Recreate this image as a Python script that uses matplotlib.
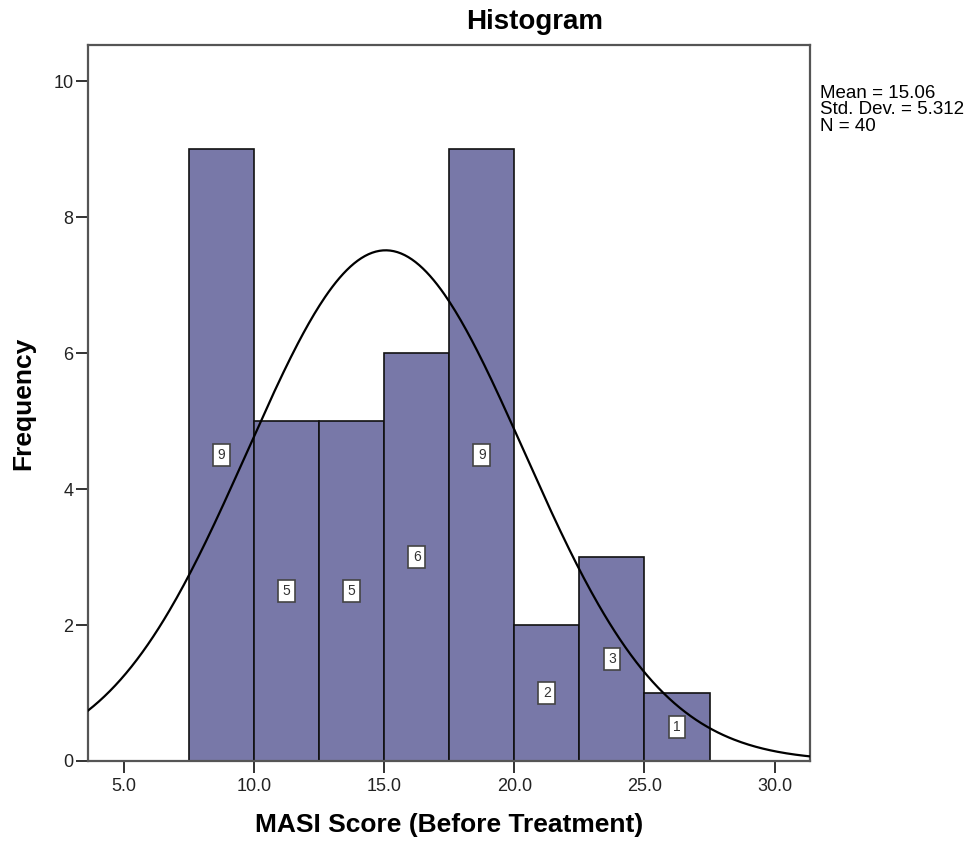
import numpy as np
import matplotlib
matplotlib.use('Agg')
from matplotlib import pyplot as plt

plt.rcParams['font.family'] = ['Liberation Sans', 'DejaVu Sans']

bin_edges = [7.5, 10.0, 12.5, 15.0, 17.5, 20.0, 22.5, 25.0, 27.5]
counts = [9, 5, 5, 6, 9, 2, 3, 1]
mean = 15.06
std = 5.312
n = 40
x_ticks = [5.0, 10.0, 15.0, 20.0, 25.0, 30.0]
y_ticks = [0, 2, 4, 6, 8, 10]

fig = plt.figure(figsize=(9.76, 8.42), dpi=100)
ax = fig.add_axes([0.0902, 0.0962, 0.7398, 0.8504])

lefts = np.array(bin_edges[:-1])
widths = np.diff(bin_edges)
ax.bar(lefts, counts, width=widths, align='edge', color='#7878a8',
       edgecolor='#111111', linewidth=1.2, zorder=2)

# bar value labels
for l, w, c in zip(lefts, widths, counts):
    ax.text(l + w / 2, c / 2, str(c), ha='center', va='center', fontsize=10,
            color='#333333', zorder=4,
            bbox=dict(boxstyle='square,pad=0.32', fc='white', ec='#444444', lw=1.2))

# normal curve
xs = np.linspace(3.63, 31.36, 400)
bw = bin_edges[1] - bin_edges[0]
ys = n * bw / (std * np.sqrt(2 * np.pi)) * np.exp(-0.5 * ((xs - mean) / std) ** 2)
ax.plot(xs, ys, color='black', lw=1.6, zorder=3)

ax.set_xlim(3.63, 31.36)
ax.set_ylim(0, 10.53)
ax.set_xticks(x_ticks)
ax.set_xticklabels([f'{t:.1f}' for t in x_ticks])
ax.set_yticks(y_ticks)
ax.tick_params(direction='out', length=8.5, width=1.3, labelsize=13, colors='#222222')
ax.tick_params(axis='y', pad=2)
ax.tick_params(axis='x', pad=4)
for s in ax.spines.values():
    s.set_color('#555555')
    s.set_linewidth(1.6)

fig.text(0.548, 0.974, 'Histogram', fontsize=20, fontweight='bold',
         ha='center', va='center')
ax.set_xlabel('MASI Score (Before Treatment)', fontsize=19, fontweight='bold')
ax.xaxis.set_label_coords(0.5, -0.0726)
ax.xaxis.label.set_va('top')
ax.set_ylabel('Frequency', fontsize=19, fontweight='bold')
ax.yaxis.set_label_coords(-0.09, 0.5)
ax.yaxis.label.set_va('center')

fig.text(0.840, 0.899, f'Mean = {mean:.2f}\nStd. Dev. = {std:.3f}\nN = {n}',
         fontsize=13.5, va='top', ha='left', linespacing=0.95)

fig.savefig('out.png', dpi=100)
